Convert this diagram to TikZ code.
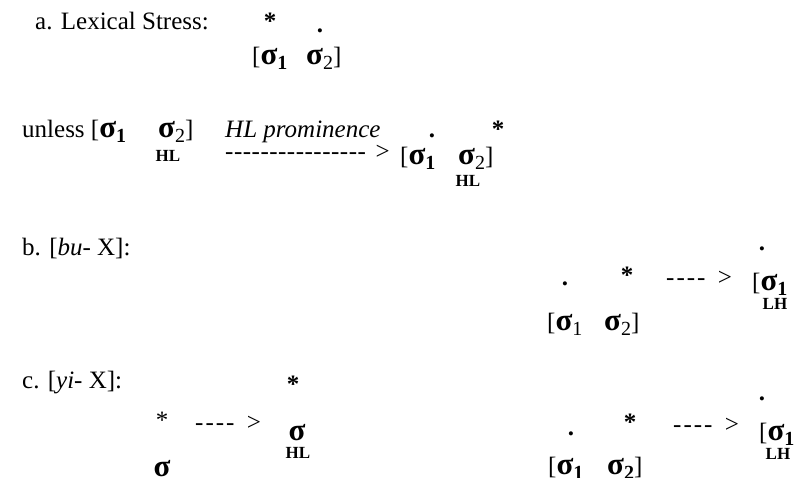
\documentclass[tikz,border=0pt]{standalone}
\usepackage{fontspec}
\setmainfont{Liberation Serif}
\newcommand{\sgm}{{\fontsize{31}{31}\selectfont\bfseries σ}}
\newcommand{\sgb}[1]{\sgm\raisebox{-0.2em}{\fontsize{20}{20}\selectfont #1}}
\newcommand{\hy}{-\kern0.5pt}
\newcommand{\hs}{-\kern2pt}
\begin{document}
\begin{tikzpicture}[x=1pt,y=-1pt,
  txt/.style={inner sep=0pt, anchor=base west, font=\fontsize{25}{30}\selectfont},
  mk/.style={inner sep=0pt, anchor=base, font=\fontsize{25}{30}\selectfont},
  subl/.style={inner sep=0pt, anchor=base, font=\fontsize{17}{17}\selectfont\bfseries}]
\useasboundingbox (0,0) rectangle (794,478);
% line a
\node[txt] (a) at (35,30) {a. Lexical Stress:};
\node[mk] (a1) at (270,30) {\textbf{*}};
\node[mk] (a2) at (320,33) {\textbf{.}};
\node[txt] (a3) at (252,65) {[\sgb{\textbf{1}}};
\node[txt] (a4) at (306,65) {\sgb{2}]};
% unless
\node[txt] (u) at (22,138) {unless [\sgb{\textbf{1}}};
\node[txt] (u2) at (158,138) {\sgb{2}]};
\node[subl] (u3) at (168,162) {HL};
\node[txt] (p) at (225,138) {\textit{HL prominence}};
\node[mk] (p1) at (432,138) {\textbf{.}};
\node[mk] (p2) at (498,138) {\textbf{*}};
\node[txt] (ar1) at (225,160) {\hy\hy\hy\hy\hy\hy\hy\hy\hy\hy\hy\hy\hy\hy\hy\hy\kern3pt{} >};
\node[txt] (p3) at (400,165) {[\sgb{\textbf{1}}};
\node[txt] (p4) at (458,165) {\sgb{2}]};
\node[subl] (p5) at (468,187) {HL};
% b
\node[txt] (b) at (22,255) {b. [\textit{bu}- X]:};
\node[mk] (b1) at (762,250) {\textbf{.}};
\node[mk] (b2) at (565,285) {\textbf{.}};
\node[mk] (b3) at (627,283) {\textbf{*}};
\node[txt] (b4) at (666,285) {\hs\hs\hs\hs\kern4pt{} >};
\node[txt] (b5) at (752,290) {[\sgb{\textbf{1}}};
\node[subl] (b6) at (775,309) {LH};
\node[txt] (b7) at (547,330) {[\sgb{1}};
\node[txt] (b8) at (604,330) {\sgb{2}]};
% c
\node[txt] (c) at (22,388) {c. [\textit{yi}- X]:};
\node[mk] (c1) at (293,392) {\textbf{*}};
\node[mk] (c2) at (162,428) {*};
\node[txt] (c3) at (195,430) {\hs\hs\hs\hs\kern4pt{} >};
\node[mk] (c4) at (297,440) {\sgm};
\node[subl] (c5) at (298,458) {HL};
\node[mk] (c6) at (162,476) {\sgm};
\node[mk] (c7) at (762,400) {\textbf{.}};
\node[mk] (c8) at (571,435) {\textbf{.}};
\node[mk] (c9) at (630,430) {\textbf{*}};
\node[txt] (c10) at (673,432) {\hs\hs\hs\hs\kern4pt{} >};
\node[txt] (c11) at (759,440) {[\sgb{\textbf{1}}};
\node[subl] (c12) at (778,459) {LH};
\node[txt] (c13) at (548,474) {[\sgb{\textbf{1}}};
\node[txt] (c14) at (607,474) {\sgb{\textbf{2}}]};
\end{tikzpicture}
\end{document}
